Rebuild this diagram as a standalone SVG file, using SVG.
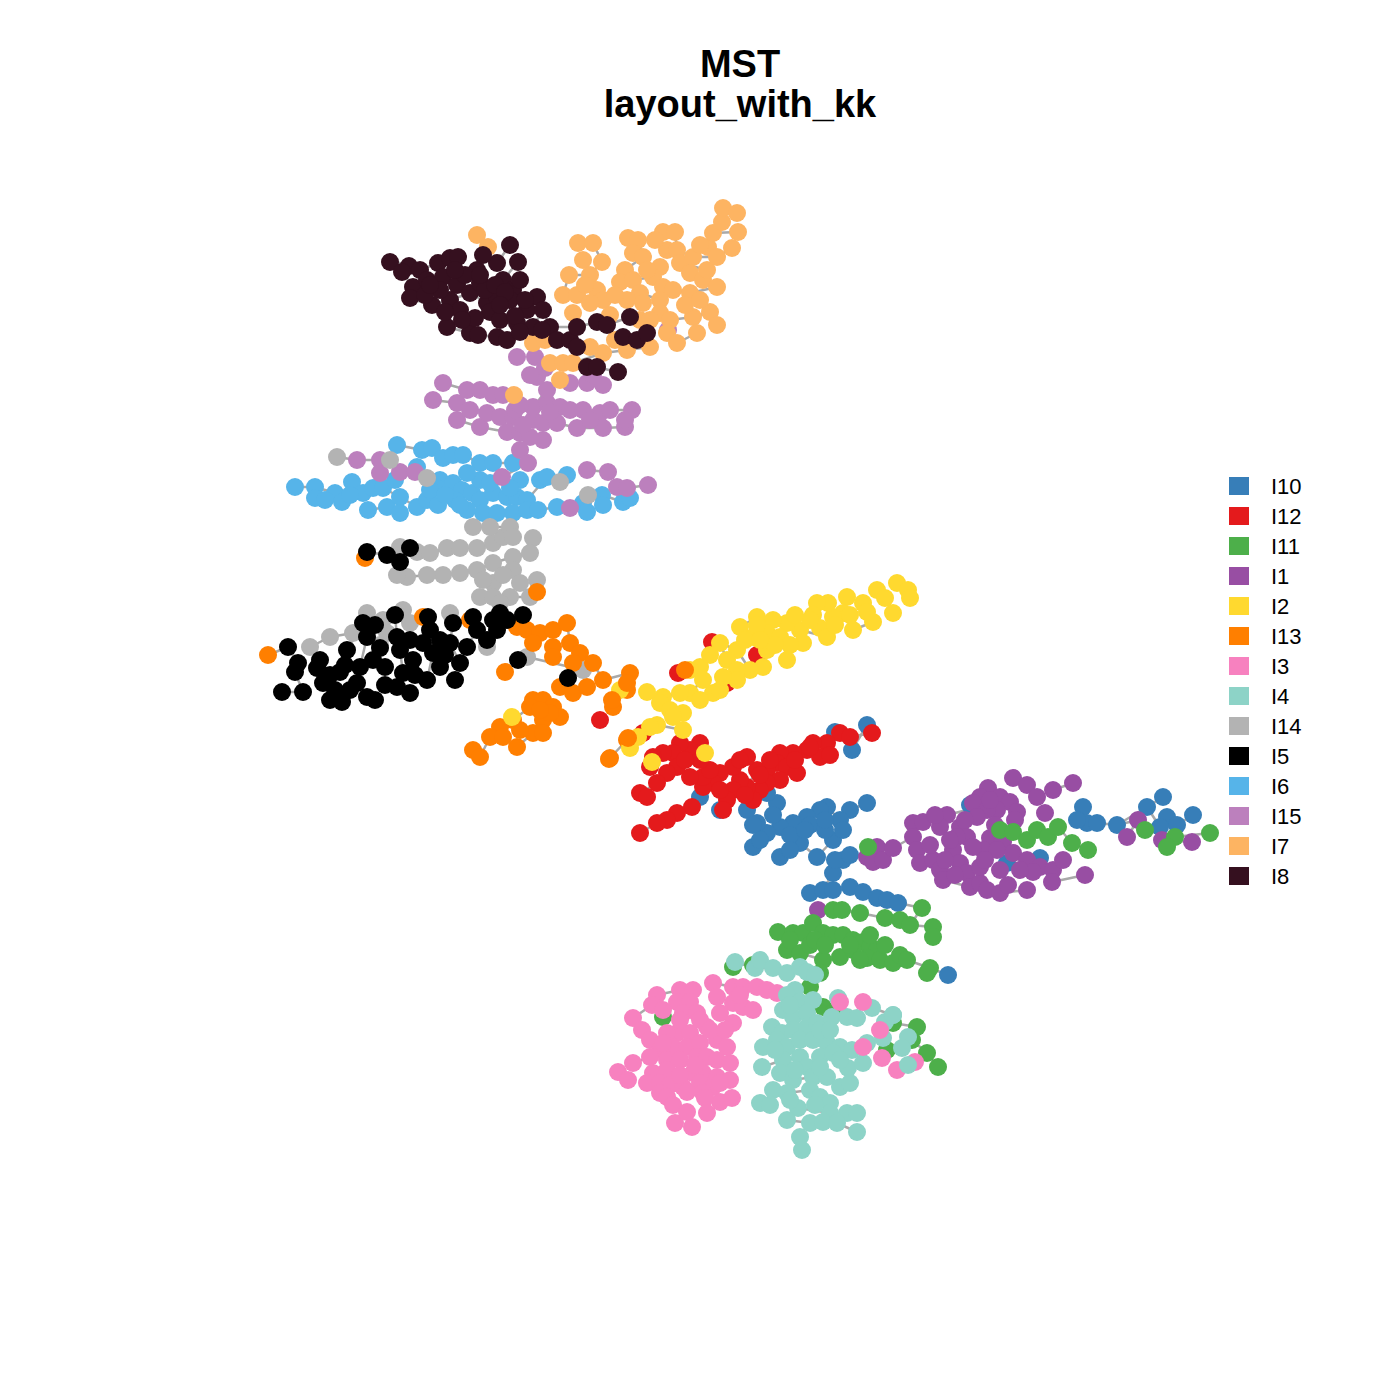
<svg xmlns="http://www.w3.org/2000/svg" width="1400" height="1400" viewBox="0 0 1400 1400">
<style>
circle{stroke:none}
.e{fill:none;stroke:#A9A9A9;stroke-width:2.5;stroke-linejoin:round}
.c10{fill:#377EB8}.c12{fill:#E41A1C}.c11{fill:#4DAF4A}.c1{fill:#984EA3}.c2{fill:#FFD92F}.c13{fill:#FF7F00}.c3{fill:#F781BF}.c4{fill:#8DD3C7}.c14{fill:#B3B3B3}.c5{fill:#000000}.c6{fill:#56B4E9}.c15{fill:#BC80BD}.c7{fill:#FDB462}.c8{fill:#35101F}
.t{font-family:"Liberation Sans",Arial,sans-serif;fill:#000}
</style>
<rect width="1400" height="1400" fill="#fff"/>
<g id="title">
<text class="t" x="740" y="77" font-size="38" font-weight="bold" text-anchor="middle">MST</text>
<text class="t" x="740" y="117" font-size="38" font-weight="bold" text-anchor="middle">layout_with_kk</text>
</g>
<g id="edges">
<path class="e" d="M663 232 L675 232 L677 250 L693 257 L717 257 L732 248 M708 247 L713 233 L722 222 L723 208 L737 213 M713 233 L738 232 M653 277 L663 287 L673 290 L690 293 L717 287 M660 300 L673 290 M660 313 L670 320 L693 317 L710 312 L717 325 M667 333 L677 343 L697 333 M640 293 L660 300 M620 282 L633 280 L653 277 M577 295 L603 300 L627 300 M563 363 L573 363 L603 353 L627 350 L650 347 M578 243 L593 243 L602 262 L590 275 L569 275 L563 295 M628 238 L638 240 L643 257 L625 270 L620 282 M680 263 L707 270 L703 280 L717 287"/>
<path class="e" d="M390 260 L409 266 L420 270 L438 263 L450 258 L458 257 M402 272 L413 287 L408 298 L432 305 L450 300 L470 293 L487 303 L510 300 L537 295 M447 327 L470 333 L478 335 L497 337 L507 340 L533 327 L543 310 L550 327 L577 327 L597 322 L607 325 L630 317 L647 333 L637 340 M587 367 L597 367 L617 372 M497 263 L510 245 M518 262 L503 280"/>
<path class="e" d="M443 383 L467 390 L480 390 L493 395 L503 395 L533 407 L547 403 L560 407 L570 410 L583 410 L600 413 L610 410 L632 410 M433 400 L457 403 L487 413 L500 417 L513 417 L533 420 L543 423 L557 423 L577 428 L603 428 L625 427 M457 420 L480 427 L507 432 L520 433 L543 440 M543 440 L530 437 L520 450 L528 463 L502 477 M337 457 L357 460 L380 460 L390 460 L400 472 L415 472 M587 470 L608 472 M617 487 L627 488 L648 485 M537 377 L547 390 L533 407"/>
<path class="e" d="M397 445 L422 450 L432 448 L443 458 L453 455 L463 455 L480 463 L493 463 L513 463 M295 487 L315 487 L335 493 L342 502 L363 493 L373 488 L383 488 L400 497 L417 507 L427 500 L438 505 L462 490 L472 493 L480 500 L493 493 L507 497 L517 497 L527 500 L547 477 L567 475 M315 498 L335 493 M368 510 L387 507 L400 513 M467 510 L483 513 L497 513 L513 513 L527 510 L538 510 L557 507 L583 503 L602 495 L623 502 L630 498 M417 467 L440 480 L453 483"/>
<path class="e" d="M397 575 L407 577 L427 575 L443 575 L460 573 L477 570 L493 563 L513 557 L530 553 L533 538 M400 547 L417 552 L430 553 L447 548 L460 548 L477 548 L493 543 L503 537 L513 537 M473 527 L490 527 L510 527 M480 597 L493 597 L510 597 L530 597 L537 580 M310 647 L330 637 L353 633 L367 613 L383 620 L403 610 M527 657 L583 670"/>
<path class="e" d="M288 647 L298 663 L295 672 L303 692 M282 692 L303 692 M317 668 L323 683 L335 690 L342 702 M367 552 L387 555 L400 562 L410 548 M347 650 L363 623 M367 637 L360 667 L357 683 L367 697 L375 700 M395 615 L397 637 L400 650 L403 673 L397 687 L410 693 M428 617 L430 630 L423 643 L433 653 L427 680 M453 623 L450 643 L460 663 L467 647 L477 630 L473 617 M493 620 L500 613 L507 620 L523 615 M268 655 L288 647"/>
<path class="e" d="M517 627 L527 630 L540 633 L553 630 L567 623 L570 643 L580 653 L593 663 L603 680 M473 750 L480 757 L490 737 L500 727 L513 720 L530 707 L543 700 L553 707 L560 717 M503 737 L517 747 L533 733 L543 733 M610 758 L627 740 M613 707 L627 690 L630 673 M603 680 L630 673"/>
<path class="e" d="M897 583 L908 590 L910 598 M877 590 L885 598 L893 613 M863 603 L867 612 L873 622 L853 630 L843 613 L833 617 L828 603 L817 603 L813 615 L820 628 L827 637 L800 630 L787 623 L773 620 L757 617 L740 627 L753 637 L767 650 L763 667 L750 670 L737 650 L720 643 L727 660 L737 670 L723 677 L713 693 L703 680 L690 693 L680 693 L663 697 L660 703 L647 692 M670 710 L683 713 L673 717 L683 730 L657 725 L650 727 L638 737 L630 748"/>
<path class="e" d="M872 733 L850 737 L840 733 L827 743 L813 743 L807 750 L793 753 L780 753 L777 763 L767 770 L757 770 L747 787 L740 780 L733 790 L727 800 L723 810 M787 767 L780 780 L767 783 L760 790 L753 800 M747 757 L733 767 L720 773 L713 783 L703 787 L692 807 L677 813 L667 820 L657 823 L640 833 M700 743 L690 750 L680 743 L673 753 L663 753 L653 757 L650 767 M677 767 L667 773 L657 783 L640 793 L647 797"/>
<path class="e" d="M867 725 L852 750 L835 732 M867 803 L850 810 L840 820 L827 807 L820 810 L807 817 L793 823 L780 827 L767 833 L753 847 M780 857 L800 843 L817 857 L833 840 L843 830 M843 860 L833 873 L823 890 L810 893 M833 890 L850 887 L863 892 L877 898 L887 900 L898 903 L922 908 M1083 807 L1087 823 L1097 823 L1117 825 L1147 807 L1163 797 M1147 807 L1160 827 L1177 825 L1193 815 M930 968 L948 975"/>
<path class="e" d="M1013 778 L1027 785 L1037 797 M1053 790 L1073 783 M913 823 L923 822 L947 815 L967 810 L973 803 L980 797 L988 788 M1040 867 L1053 870 L1063 860 M1052 882 L1085 875 M877 847 L893 848 L913 837 L917 850 L920 863 L933 860 L940 870 L943 880 L970 887 L987 890 L1000 893 L1027 890 M1138 820 L1127 837 M1162 840 L1192 842 M1117 825 L1138 820"/>
<path class="e" d="M1000 830 L1013 832 L1027 840 L1037 830 L1048 837 L1058 827 L1072 843 L1088 850 M1145 830 L1175 837 L1210 833 M833 910 L842 910 L860 913 L885 918 L900 920 L910 925 L922 908 M910 925 L933 927 L933 937 M778 932 L793 933 L803 933 L823 933 L833 935 L843 935 L853 940 L863 942 L870 947 L877 950 M787 950 L800 953 L823 960 L840 957 L853 950 L867 958 L880 960 L893 963 L900 955 L907 960 L930 968 M893 1023 L917 1027 L912 1040 L927 1053 L938 1067"/>
<path class="e" d="M735 962 L755 968 L773 968 L787 973 L800 967 L807 972 L815 975 M763 1047 L777 1040 L787 1047 L800 1040 M762 1067 L783 1060 L800 1057 L807 1067 M780 1073 L793 1080 L813 1077 L827 1077 L840 1087 M773 1090 L787 1093 L810 1090 L820 1097 L830 1103 M760 1103 L770 1105 M798 1108 L830 1113 L847 1113 L857 1113 M787 1120 L810 1123 L823 1122 L837 1123 L857 1132 M800 1137 L802 1150 M872 1008 L893 1015 L885 1022"/>
<path class="e" d="M657 995 L680 990 M633 1018 L652 1005 M642 1030 L650 1040 M713 983 L733 987 L743 987 L757 987 L767 990 L777 993 M717 997 L733 1003 L743 1007 L753 1010 M618 1072 L628 1080 M633 1063 L650 1057 M660 1083 L683 1087 L700 1083 L713 1087 M675 1123 L687 1112 L692 1127 M707 1113 L703 1093"/>
</g>
<g id="nodes-I6" class="c6">
<circle cx="397" cy="445" r="9"/><circle cx="422" cy="450" r="9"/><circle cx="432" cy="448" r="9"/><circle cx="443" cy="458" r="9"/><circle cx="453" cy="455" r="9"/><circle cx="463" cy="455" r="9"/><circle cx="480" cy="463" r="9"/><circle cx="493" cy="463" r="9"/><circle cx="513" cy="463" r="9"/><circle cx="295" cy="487" r="9"/><circle cx="315" cy="487" r="9"/><circle cx="315" cy="498" r="9"/><circle cx="335" cy="493" r="9"/><circle cx="342" cy="502" r="9"/><circle cx="352" cy="482" r="9"/><circle cx="363" cy="493" r="9"/><circle cx="373" cy="488" r="9"/><circle cx="383" cy="488" r="9"/><circle cx="368" cy="510" r="9"/><circle cx="387" cy="507" r="9"/><circle cx="400" cy="497" r="9"/><circle cx="400" cy="513" r="9"/><circle cx="417" cy="507" r="9"/><circle cx="427" cy="500" r="9"/><circle cx="438" cy="505" r="9"/><circle cx="417" cy="467" r="9"/><circle cx="440" cy="480" r="9"/><circle cx="437" cy="488" r="9"/><circle cx="453" cy="483" r="9"/><circle cx="462" cy="490" r="9"/><circle cx="472" cy="493" r="9"/><circle cx="480" cy="500" r="9"/><circle cx="493" cy="493" r="9"/><circle cx="507" cy="497" r="9"/><circle cx="517" cy="497" r="9"/><circle cx="527" cy="500" r="9"/><circle cx="467" cy="510" r="9"/><circle cx="483" cy="513" r="9"/><circle cx="497" cy="513" r="9"/><circle cx="513" cy="513" r="9"/><circle cx="527" cy="510" r="9"/><circle cx="538" cy="510" r="9"/><circle cx="520" cy="480" r="9"/><circle cx="540" cy="480" r="9"/><circle cx="547" cy="477" r="9"/><circle cx="567" cy="475" r="9"/><circle cx="557" cy="507" r="9"/><circle cx="583" cy="503" r="9"/><circle cx="587" cy="512" r="9"/><circle cx="602" cy="495" r="9"/><circle cx="603" cy="505" r="9"/><circle cx="623" cy="502" r="9"/><circle cx="630" cy="498" r="9"/><circle cx="480" cy="480" r="9"/><circle cx="467" cy="473" r="9"/><circle cx="350" cy="495" r="9"/><circle cx="325" cy="500" r="9"/><circle cx="490" cy="483" r="9"/><circle cx="510" cy="488" r="9"/><circle cx="455" cy="500" r="9"/><circle cx="430" cy="490" r="9"/><circle cx="445" cy="495" r="9"/><circle cx="395" cy="480" r="9"/><circle cx="460" cy="505" r="9"/>
</g>
<g id="nodes-I15" class="c15">
<circle cx="443" cy="383" r="9"/><circle cx="433" cy="400" r="9"/><circle cx="457" cy="403" r="9"/><circle cx="467" cy="390" r="9"/><circle cx="480" cy="390" r="9"/><circle cx="493" cy="395" r="9"/><circle cx="503" cy="395" r="9"/><circle cx="457" cy="420" r="9"/><circle cx="480" cy="427" r="9"/><circle cx="487" cy="413" r="9"/><circle cx="500" cy="417" r="9"/><circle cx="513" cy="417" r="9"/><circle cx="507" cy="432" r="9"/><circle cx="520" cy="433" r="9"/><circle cx="533" cy="420" r="9"/><circle cx="543" cy="423" r="9"/><circle cx="533" cy="407" r="9"/><circle cx="547" cy="403" r="9"/><circle cx="560" cy="407" r="9"/><circle cx="547" cy="390" r="9"/><circle cx="537" cy="377" r="9"/><circle cx="570" cy="410" r="9"/><circle cx="583" cy="410" r="9"/><circle cx="600" cy="413" r="9"/><circle cx="610" cy="410" r="9"/><circle cx="632" cy="410" r="9"/><circle cx="557" cy="423" r="9"/><circle cx="577" cy="428" r="9"/><circle cx="603" cy="428" r="9"/><circle cx="625" cy="427" r="9"/><circle cx="625" cy="420" r="9"/><circle cx="543" cy="440" r="9"/><circle cx="530" cy="437" r="9"/><circle cx="520" cy="450" r="9"/><circle cx="528" cy="463" r="9"/><circle cx="570" cy="383" r="9"/><circle cx="587" cy="383" r="9"/><circle cx="517" cy="357" r="9"/><circle cx="535" cy="357" r="9"/><circle cx="545" cy="368" r="9"/><circle cx="530" cy="375" r="9"/><circle cx="593" cy="375" r="9"/><circle cx="603" cy="385" r="9"/><circle cx="668" cy="330" r="9"/><circle cx="357" cy="460" r="9"/><circle cx="380" cy="460" r="9"/><circle cx="380" cy="473" r="9"/><circle cx="400" cy="472" r="9"/><circle cx="415" cy="472" r="9"/><circle cx="502" cy="477" r="9"/><circle cx="587" cy="470" r="9"/><circle cx="608" cy="472" r="9"/><circle cx="617" cy="487" r="9"/><circle cx="627" cy="488" r="9"/><circle cx="648" cy="485" r="9"/><circle cx="570" cy="508" r="9"/><circle cx="515" cy="410" r="9"/><circle cx="523" cy="425" r="9"/><circle cx="470" cy="410" r="9"/><circle cx="520" cy="405" r="9"/><circle cx="550" cy="412" r="9"/><circle cx="590" cy="420" r="9"/>
</g>
<g id="nodes-I7" class="c7">
<circle cx="477" cy="235" r="9"/><circle cx="488" cy="247" r="9"/><circle cx="578" cy="243" r="9"/><circle cx="593" cy="243" r="9"/><circle cx="583" cy="260" r="9"/><circle cx="602" cy="262" r="9"/><circle cx="590" cy="275" r="9"/><circle cx="569" cy="275" r="9"/><circle cx="563" cy="295" r="9"/><circle cx="577" cy="295" r="9"/><circle cx="597" cy="290" r="9"/><circle cx="603" cy="300" r="9"/><circle cx="590" cy="303" r="9"/><circle cx="573" cy="313" r="9"/><circle cx="628" cy="238" r="9"/><circle cx="638" cy="240" r="9"/><circle cx="633" cy="253" r="9"/><circle cx="643" cy="257" r="9"/><circle cx="625" cy="270" r="9"/><circle cx="620" cy="282" r="9"/><circle cx="633" cy="280" r="9"/><circle cx="640" cy="293" r="9"/><circle cx="627" cy="300" r="9"/><circle cx="643" cy="303" r="9"/><circle cx="663" cy="232" r="9"/><circle cx="675" cy="232" r="9"/><circle cx="667" cy="250" r="9"/><circle cx="677" cy="250" r="9"/><circle cx="680" cy="263" r="9"/><circle cx="660" cy="267" r="9"/><circle cx="653" cy="277" r="9"/><circle cx="663" cy="287" r="9"/><circle cx="673" cy="290" r="9"/><circle cx="660" cy="300" r="9"/><circle cx="693" cy="257" r="9"/><circle cx="690" cy="273" r="9"/><circle cx="690" cy="293" r="9"/><circle cx="703" cy="280" r="9"/><circle cx="717" cy="287" r="9"/><circle cx="707" cy="270" r="9"/><circle cx="708" cy="247" r="9"/><circle cx="717" cy="257" r="9"/><circle cx="713" cy="233" r="9"/><circle cx="722" cy="222" r="9"/><circle cx="723" cy="208" r="9"/><circle cx="737" cy="213" r="9"/><circle cx="738" cy="232" r="9"/><circle cx="732" cy="248" r="9"/><circle cx="660" cy="313" r="9"/><circle cx="670" cy="320" r="9"/><circle cx="667" cy="333" r="9"/><circle cx="677" cy="343" r="9"/><circle cx="693" cy="317" r="9"/><circle cx="697" cy="333" r="9"/><circle cx="710" cy="312" r="9"/><circle cx="717" cy="325" r="9"/><circle cx="650" cy="347" r="9"/><circle cx="627" cy="350" r="9"/><circle cx="603" cy="353" r="9"/><circle cx="590" cy="347" r="9"/><circle cx="550" cy="363" r="9"/><circle cx="563" cy="363" r="9"/><circle cx="573" cy="363" r="9"/><circle cx="533" cy="343" r="9"/><circle cx="560" cy="380" r="9"/><circle cx="514" cy="395" r="9"/><circle cx="615" cy="340" r="9"/><circle cx="640" cy="320" r="9"/><circle cx="610" cy="315" r="9"/><circle cx="545" cy="340" r="9"/><circle cx="655" cy="240" r="9"/><circle cx="700" cy="245" r="9"/><circle cx="647" cy="270" r="9"/><circle cx="685" cy="305" r="9"/><circle cx="700" cy="300" r="9"/><circle cx="615" cy="295" r="9"/><circle cx="585" cy="285" r="9"/><circle cx="650" cy="320" r="9"/>
</g>
<g id="nodes-I8" class="c8">
<circle cx="390" cy="262" r="9"/><circle cx="409" cy="266" r="9"/><circle cx="402" cy="272" r="9"/><circle cx="420" cy="270" r="9"/><circle cx="413" cy="287" r="9"/><circle cx="410" cy="298" r="9"/><circle cx="432" cy="305" r="9"/><circle cx="427" cy="280" r="9"/><circle cx="438" cy="263" r="9"/><circle cx="450" cy="258" r="9"/><circle cx="458" cy="257" r="9"/><circle cx="443" cy="277" r="9"/><circle cx="457" cy="285" r="9"/><circle cx="450" cy="300" r="9"/><circle cx="460" cy="310" r="9"/><circle cx="470" cy="293" r="9"/><circle cx="477" cy="270" r="9"/><circle cx="480" cy="283" r="9"/><circle cx="487" cy="303" r="9"/><circle cx="497" cy="263" r="9"/><circle cx="510" cy="245" r="9"/><circle cx="518" cy="262" r="9"/><circle cx="503" cy="280" r="9"/><circle cx="513" cy="290" r="9"/><circle cx="520" cy="280" r="9"/><circle cx="497" cy="297" r="9"/><circle cx="510" cy="300" r="9"/><circle cx="537" cy="297" r="9"/><circle cx="447" cy="327" r="9"/><circle cx="470" cy="333" r="9"/><circle cx="478" cy="335" r="9"/><circle cx="497" cy="337" r="9"/><circle cx="507" cy="340" r="9"/><circle cx="517" cy="323" r="9"/><circle cx="527" cy="310" r="9"/><circle cx="533" cy="327" r="9"/><circle cx="543" cy="310" r="9"/><circle cx="550" cy="327" r="9"/><circle cx="557" cy="340" r="9"/><circle cx="570" cy="340" r="9"/><circle cx="577" cy="327" r="9"/><circle cx="597" cy="322" r="9"/><circle cx="607" cy="325" r="9"/><circle cx="630" cy="317" r="9"/><circle cx="623" cy="337" r="9"/><circle cx="637" cy="340" r="9"/><circle cx="647" cy="333" r="9"/><circle cx="587" cy="367" r="9"/><circle cx="597" cy="367" r="9"/><circle cx="618" cy="372" r="9"/><circle cx="542" cy="330" r="9"/><circle cx="577" cy="347" r="9"/><circle cx="485" cy="290" r="9"/><circle cx="495" cy="285" r="9"/><circle cx="505" cy="292" r="9"/><circle cx="490" cy="312" r="9"/><circle cx="500" cy="320" r="9"/><circle cx="515" cy="316" r="9"/><circle cx="525" cy="300" r="9"/><circle cx="465" cy="275" r="9"/><circle cx="475" cy="318" r="9"/><circle cx="483" cy="255" r="9"/><circle cx="440" cy="290" r="9"/><circle cx="425" cy="295" r="9"/><circle cx="430" cy="285" r="9"/><circle cx="445" cy="312" r="9"/><circle cx="462" cy="320" r="9"/><circle cx="520" cy="332" r="9"/><circle cx="480" cy="275" r="9"/><circle cx="455" cy="270" r="9"/><circle cx="500" cy="305" r="9"/>
</g>
<g id="nodes-I14" class="c14">
<circle cx="400" cy="547" r="9"/><circle cx="417" cy="552" r="9"/><circle cx="430" cy="553" r="9"/><circle cx="447" cy="548" r="9"/><circle cx="460" cy="548" r="9"/><circle cx="477" cy="548" r="9"/><circle cx="493" cy="543" r="9"/><circle cx="503" cy="537" r="9"/><circle cx="473" cy="527" r="9"/><circle cx="490" cy="527" r="9"/><circle cx="510" cy="527" r="9"/><circle cx="513" cy="537" r="9"/><circle cx="533" cy="538" r="9"/><circle cx="530" cy="553" r="9"/><circle cx="513" cy="557" r="9"/><circle cx="493" cy="563" r="9"/><circle cx="477" cy="570" r="9"/><circle cx="460" cy="573" r="9"/><circle cx="443" cy="575" r="9"/><circle cx="427" cy="575" r="9"/><circle cx="407" cy="577" r="9"/><circle cx="397" cy="575" r="9"/><circle cx="493" cy="583" r="9"/><circle cx="513" cy="570" r="9"/><circle cx="520" cy="583" r="9"/><circle cx="537" cy="580" r="9"/><circle cx="480" cy="597" r="9"/><circle cx="493" cy="597" r="9"/><circle cx="510" cy="597" r="9"/><circle cx="530" cy="597" r="9"/><circle cx="500" cy="603" r="9"/><circle cx="483" cy="580" r="9"/><circle cx="503" cy="575" r="9"/><circle cx="310" cy="647" r="9"/><circle cx="330" cy="637" r="9"/><circle cx="353" cy="633" r="9"/><circle cx="367" cy="613" r="9"/><circle cx="383" cy="620" r="9"/><circle cx="403" cy="610" r="9"/><circle cx="410" cy="623" r="9"/><circle cx="387" cy="633" r="9"/><circle cx="380" cy="645" r="9"/><circle cx="450" cy="613" r="9"/><circle cx="487" cy="647" r="9"/><circle cx="527" cy="657" r="9"/><circle cx="583" cy="670" r="9"/><circle cx="337" cy="457" r="9"/><circle cx="390" cy="460" r="9"/><circle cx="427" cy="478" r="9"/><circle cx="560" cy="482" r="9"/><circle cx="588" cy="495" r="9"/>
</g>
<g id="nodes-I13" class="c13">
<circle cx="268" cy="655" r="9"/><circle cx="365" cy="558" r="9"/><circle cx="423" cy="617" r="9"/><circle cx="537" cy="592" r="9"/><circle cx="517" cy="627" r="9"/><circle cx="527" cy="630" r="9"/><circle cx="540" cy="633" r="9"/><circle cx="553" cy="630" r="9"/><circle cx="567" cy="623" r="9"/><circle cx="570" cy="643" r="9"/><circle cx="553" cy="647" r="9"/><circle cx="580" cy="653" r="9"/><circle cx="533" cy="643" r="9"/><circle cx="553" cy="657" r="9"/><circle cx="573" cy="663" r="9"/><circle cx="593" cy="663" r="9"/><circle cx="603" cy="680" r="9"/><circle cx="560" cy="687" r="9"/><circle cx="573" cy="693" r="9"/><circle cx="587" cy="687" r="9"/><circle cx="505" cy="672" r="9"/><circle cx="533" cy="700" r="9"/><circle cx="543" cy="700" r="9"/><circle cx="553" cy="707" r="9"/><circle cx="560" cy="717" r="9"/><circle cx="543" cy="720" r="9"/><circle cx="530" cy="707" r="9"/><circle cx="513" cy="720" r="9"/><circle cx="500" cy="727" r="9"/><circle cx="490" cy="737" r="9"/><circle cx="473" cy="750" r="9"/><circle cx="480" cy="757" r="9"/><circle cx="503" cy="737" r="9"/><circle cx="517" cy="747" r="9"/><circle cx="533" cy="733" r="9"/><circle cx="543" cy="733" r="9"/><circle cx="520" cy="730" r="9"/><circle cx="550" cy="713" r="9"/><circle cx="540" cy="710" r="9"/><circle cx="630" cy="673" r="9"/><circle cx="627" cy="690" r="9"/><circle cx="613" cy="707" r="9"/><circle cx="627" cy="740" r="9"/><circle cx="610" cy="758" r="9"/><circle cx="470" cy="620" r="9"/>
</g>
<g id="nodes-I5" class="c5">
<circle cx="367" cy="552" r="9"/><circle cx="387" cy="555" r="9"/><circle cx="400" cy="562" r="9"/><circle cx="410" cy="548" r="9"/><circle cx="288" cy="647" r="9"/><circle cx="298" cy="663" r="9"/><circle cx="295" cy="672" r="9"/><circle cx="282" cy="692" r="9"/><circle cx="303" cy="692" r="9"/><circle cx="317" cy="668" r="9"/><circle cx="323" cy="683" r="9"/><circle cx="335" cy="690" r="9"/><circle cx="342" cy="702" r="9"/><circle cx="340" cy="672" r="9"/><circle cx="347" cy="650" r="9"/><circle cx="363" cy="623" r="9"/><circle cx="367" cy="637" r="9"/><circle cx="360" cy="667" r="9"/><circle cx="357" cy="683" r="9"/><circle cx="367" cy="697" r="9"/><circle cx="375" cy="700" r="9"/><circle cx="373" cy="660" r="9"/><circle cx="385" cy="667" r="9"/><circle cx="395" cy="615" r="9"/><circle cx="397" cy="637" r="9"/><circle cx="400" cy="650" r="9"/><circle cx="403" cy="673" r="9"/><circle cx="397" cy="687" r="9"/><circle cx="410" cy="693" r="9"/><circle cx="413" cy="660" r="9"/><circle cx="423" cy="643" r="9"/><circle cx="428" cy="617" r="9"/><circle cx="430" cy="630" r="9"/><circle cx="433" cy="653" r="9"/><circle cx="427" cy="680" r="9"/><circle cx="440" cy="667" r="9"/><circle cx="453" cy="623" r="9"/><circle cx="450" cy="643" r="9"/><circle cx="460" cy="663" r="9"/><circle cx="467" cy="647" r="9"/><circle cx="473" cy="617" r="9"/><circle cx="477" cy="630" r="9"/><circle cx="493" cy="620" r="9"/><circle cx="500" cy="613" r="9"/><circle cx="507" cy="620" r="9"/><circle cx="523" cy="615" r="9"/><circle cx="497" cy="630" r="9"/><circle cx="487" cy="640" r="9"/><circle cx="518" cy="660" r="9"/><circle cx="568" cy="678" r="9"/><circle cx="415" cy="675" r="9"/><circle cx="445" cy="655" r="9"/><circle cx="385" cy="685" r="9"/><circle cx="350" cy="690" r="9"/><circle cx="330" cy="675" r="9"/><circle cx="380" cy="648" r="9"/><circle cx="375" cy="625" r="9"/><circle cx="410" cy="640" r="9"/><circle cx="440" cy="640" r="9"/><circle cx="455" cy="680" r="9"/><circle cx="345" cy="665" r="9"/><circle cx="330" cy="700" r="9"/><circle cx="320" cy="660" r="9"/>
</g>
<g id="nodes-I10" class="c10">
<circle cx="867" cy="725" r="9"/><circle cx="835" cy="732" r="9"/><circle cx="852" cy="750" r="9"/><circle cx="867" cy="803" r="9"/><circle cx="850" cy="810" r="9"/><circle cx="840" cy="820" r="9"/><circle cx="827" cy="807" r="9"/><circle cx="820" cy="810" r="9"/><circle cx="807" cy="817" r="9"/><circle cx="793" cy="823" r="9"/><circle cx="780" cy="827" r="9"/><circle cx="767" cy="833" r="9"/><circle cx="753" cy="847" r="9"/><circle cx="780" cy="857" r="9"/><circle cx="800" cy="843" r="9"/><circle cx="817" cy="857" r="9"/><circle cx="833" cy="840" r="9"/><circle cx="843" cy="830" r="9"/><circle cx="757" cy="823" r="9"/><circle cx="747" cy="810" r="9"/><circle cx="777" cy="803" r="9"/><circle cx="767" cy="793" r="9"/><circle cx="753" cy="825" r="9"/><circle cx="700" cy="797" r="9"/><circle cx="720" cy="810" r="9"/><circle cx="843" cy="860" r="9"/><circle cx="833" cy="873" r="9"/><circle cx="810" cy="893" r="9"/><circle cx="823" cy="890" r="9"/><circle cx="833" cy="890" r="9"/><circle cx="850" cy="887" r="9"/><circle cx="863" cy="892" r="9"/><circle cx="877" cy="898" r="9"/><circle cx="887" cy="900" r="9"/><circle cx="898" cy="903" r="9"/><circle cx="970" cy="805" r="9"/><circle cx="1007" cy="863" r="9"/><circle cx="1040" cy="858" r="9"/><circle cx="1083" cy="807" r="9"/><circle cx="1087" cy="823" r="9"/><circle cx="1077" cy="820" r="9"/><circle cx="1097" cy="823" r="9"/><circle cx="1117" cy="825" r="9"/><circle cx="1147" cy="807" r="9"/><circle cx="1163" cy="797" r="9"/><circle cx="1167" cy="817" r="9"/><circle cx="1177" cy="825" r="9"/><circle cx="1160" cy="827" r="9"/><circle cx="1193" cy="815" r="9"/><circle cx="948" cy="975" r="9"/><circle cx="810" cy="825" r="9"/><circle cx="790" cy="835" r="9"/><circle cx="825" cy="830" r="9"/><circle cx="773" cy="815" r="9"/><circle cx="760" cy="840" r="9"/><circle cx="790" cy="850" r="9"/><circle cx="805" cy="830" r="9"/><circle cx="825" cy="820" r="9"/><circle cx="835" cy="860" r="9"/><circle cx="850" cy="855" r="9"/>
</g>
<g id="nodes-I12" class="c12">
<circle cx="712" cy="642" r="9"/><circle cx="678" cy="673" r="9"/><circle cx="727" cy="683" r="9"/><circle cx="757" cy="655" r="9"/><circle cx="600" cy="720" r="9"/><circle cx="643" cy="733" r="9"/><circle cx="872" cy="733" r="9"/><circle cx="840" cy="733" r="9"/><circle cx="850" cy="737" r="9"/><circle cx="827" cy="743" r="9"/><circle cx="813" cy="743" r="9"/><circle cx="807" cy="750" r="9"/><circle cx="793" cy="753" r="9"/><circle cx="780" cy="753" r="9"/><circle cx="820" cy="757" r="9"/><circle cx="830" cy="755" r="9"/><circle cx="777" cy="763" r="9"/><circle cx="767" cy="770" r="9"/><circle cx="757" cy="770" r="9"/><circle cx="787" cy="767" r="9"/><circle cx="780" cy="780" r="9"/><circle cx="797" cy="773" r="9"/><circle cx="767" cy="783" r="9"/><circle cx="760" cy="790" r="9"/><circle cx="753" cy="800" r="9"/><circle cx="747" cy="787" r="9"/><circle cx="740" cy="780" r="9"/><circle cx="733" cy="790" r="9"/><circle cx="727" cy="800" r="9"/><circle cx="723" cy="810" r="9"/><circle cx="747" cy="757" r="9"/><circle cx="733" cy="767" r="9"/><circle cx="720" cy="773" r="9"/><circle cx="713" cy="783" r="9"/><circle cx="703" cy="787" r="9"/><circle cx="703" cy="777" r="9"/><circle cx="710" cy="770" r="9"/><circle cx="690" cy="777" r="9"/><circle cx="692" cy="807" r="9"/><circle cx="677" cy="813" r="9"/><circle cx="667" cy="820" r="9"/><circle cx="657" cy="823" r="9"/><circle cx="640" cy="833" r="9"/><circle cx="700" cy="743" r="9"/><circle cx="690" cy="750" r="9"/><circle cx="680" cy="743" r="9"/><circle cx="673" cy="753" r="9"/><circle cx="663" cy="753" r="9"/><circle cx="653" cy="757" r="9"/><circle cx="650" cy="767" r="9"/><circle cx="677" cy="767" r="9"/><circle cx="667" cy="773" r="9"/><circle cx="657" cy="783" r="9"/><circle cx="640" cy="793" r="9"/><circle cx="647" cy="797" r="9"/><circle cx="810" cy="747" r="9"/><circle cx="770" cy="760" r="9"/><circle cx="740" cy="760" r="9"/><circle cx="760" cy="775" r="9"/><circle cx="745" cy="795" r="9"/><circle cx="700" cy="760" r="9"/><circle cx="685" cy="760" r="9"/><circle cx="720" cy="790" r="9"/><circle cx="795" cy="760" r="9"/>
</g>
<g id="nodes-I2" class="c2">
<circle cx="897" cy="583" r="9"/><circle cx="908" cy="590" r="9"/><circle cx="910" cy="598" r="9"/><circle cx="877" cy="590" r="9"/><circle cx="885" cy="598" r="9"/><circle cx="893" cy="613" r="9"/><circle cx="873" cy="622" r="9"/><circle cx="863" cy="603" r="9"/><circle cx="867" cy="612" r="9"/><circle cx="847" cy="597" r="9"/><circle cx="853" cy="630" r="9"/><circle cx="843" cy="613" r="9"/><circle cx="833" cy="617" r="9"/><circle cx="828" cy="603" r="9"/><circle cx="817" cy="603" r="9"/><circle cx="813" cy="615" r="9"/><circle cx="820" cy="628" r="9"/><circle cx="827" cy="637" r="9"/><circle cx="800" cy="630" r="9"/><circle cx="803" cy="643" r="9"/><circle cx="787" cy="623" r="9"/><circle cx="773" cy="620" r="9"/><circle cx="767" cy="633" r="9"/><circle cx="757" cy="617" r="9"/><circle cx="740" cy="627" r="9"/><circle cx="753" cy="637" r="9"/><circle cx="780" cy="637" r="9"/><circle cx="787" cy="660" r="9"/><circle cx="767" cy="650" r="9"/><circle cx="763" cy="667" r="9"/><circle cx="750" cy="670" r="9"/><circle cx="737" cy="650" r="9"/><circle cx="720" cy="643" r="9"/><circle cx="727" cy="660" r="9"/><circle cx="737" cy="670" r="9"/><circle cx="737" cy="680" r="9"/><circle cx="723" cy="677" r="9"/><circle cx="713" cy="693" r="9"/><circle cx="703" cy="680" r="9"/><circle cx="700" cy="667" r="9"/><circle cx="690" cy="670" r="9"/><circle cx="690" cy="693" r="9"/><circle cx="680" cy="693" r="9"/><circle cx="663" cy="697" r="9"/><circle cx="660" cy="703" r="9"/><circle cx="647" cy="692" r="9"/><circle cx="670" cy="710" r="9"/><circle cx="683" cy="713" r="9"/><circle cx="673" cy="717" r="9"/><circle cx="683" cy="730" r="9"/><circle cx="657" cy="725" r="9"/><circle cx="650" cy="727" r="9"/><circle cx="638" cy="737" r="9"/><circle cx="630" cy="748" r="9"/><circle cx="705" cy="753" r="9"/><circle cx="652" cy="762" r="9"/><circle cx="620" cy="690" r="9"/><circle cx="512" cy="717" r="9"/><circle cx="790" cy="645" r="9"/><circle cx="745" cy="640" r="9"/><circle cx="710" cy="655" r="9"/><circle cx="757" cy="625" r="9"/><circle cx="810" cy="620" r="9"/><circle cx="795" cy="615" r="9"/><circle cx="775" cy="645" r="9"/><circle cx="760" cy="640" r="9"/><circle cx="700" cy="700" r="9"/><circle cx="720" cy="690" r="9"/><circle cx="850" cy="615" r="9"/><circle cx="835" cy="625" r="9"/>
</g>
<g id="nodes-I13b" class="c13">
<circle cx="627" cy="683" r="9"/><circle cx="628" cy="738" r="9"/><circle cx="609" cy="759" r="9"/><circle cx="612" cy="700" r="9"/><circle cx="685" cy="670" r="9"/>
</g>
<g id="nodes-I1" class="c1">
<circle cx="1013" cy="778" r="9"/><circle cx="1027" cy="785" r="9"/><circle cx="1037" cy="797" r="9"/><circle cx="1053" cy="790" r="9"/><circle cx="1073" cy="783" r="9"/><circle cx="988" cy="788" r="9"/><circle cx="980" cy="797" r="9"/><circle cx="973" cy="803" r="9"/><circle cx="1000" cy="797" r="9"/><circle cx="1010" cy="802" r="9"/><circle cx="1017" cy="812" r="9"/><circle cx="1015" cy="820" r="9"/><circle cx="997" cy="810" r="9"/><circle cx="987" cy="810" r="9"/><circle cx="977" cy="817" r="9"/><circle cx="1045" cy="813" r="9"/><circle cx="913" cy="823" r="9"/><circle cx="923" cy="822" r="9"/><circle cx="947" cy="815" r="9"/><circle cx="940" cy="827" r="9"/><circle cx="960" cy="827" r="9"/><circle cx="967" cy="837" r="9"/><circle cx="957" cy="837" r="9"/><circle cx="990" cy="838" r="9"/><circle cx="1003" cy="842" r="9"/><circle cx="983" cy="850" r="9"/><circle cx="973" cy="847" r="9"/><circle cx="997" cy="850" r="9"/><circle cx="1013" cy="853" r="9"/><circle cx="1027" cy="860" r="9"/><circle cx="1040" cy="867" r="9"/><circle cx="1033" cy="872" r="9"/><circle cx="1053" cy="870" r="9"/><circle cx="1063" cy="860" r="9"/><circle cx="1052" cy="882" r="9"/><circle cx="1085" cy="875" r="9"/><circle cx="913" cy="837" r="9"/><circle cx="917" cy="850" r="9"/><circle cx="920" cy="863" r="9"/><circle cx="933" cy="860" r="9"/><circle cx="940" cy="870" r="9"/><circle cx="943" cy="880" r="9"/><circle cx="953" cy="850" r="9"/><circle cx="960" cy="863" r="9"/><circle cx="967" cy="873" r="9"/><circle cx="970" cy="887" r="9"/><circle cx="980" cy="883" r="9"/><circle cx="980" cy="867" r="9"/><circle cx="987" cy="890" r="9"/><circle cx="1000" cy="893" r="9"/><circle cx="1008" cy="885" r="9"/><circle cx="1027" cy="890" r="9"/><circle cx="877" cy="847" r="9"/><circle cx="867" cy="857" r="9"/><circle cx="873" cy="862" r="9"/><circle cx="883" cy="860" r="9"/><circle cx="893" cy="848" r="9"/><circle cx="1138" cy="820" r="9"/><circle cx="1127" cy="837" r="9"/><circle cx="1162" cy="840" r="9"/><circle cx="1192" cy="842" r="9"/><circle cx="818" cy="910" r="9"/><circle cx="930" cy="845" r="9"/><circle cx="945" cy="860" r="9"/><circle cx="965" cy="820" r="9"/><circle cx="935" cy="815" r="9"/><circle cx="950" cy="840" r="9"/><circle cx="995" cy="825" r="9"/><circle cx="1020" cy="870" r="9"/><circle cx="1000" cy="870" r="9"/><circle cx="985" cy="860" r="9"/><circle cx="955" cy="875" r="9"/><circle cx="990" cy="800" r="9"/>
</g>
<g id="nodes-I11" class="c11">
<circle cx="1000" cy="830" r="9"/><circle cx="1013" cy="832" r="9"/><circle cx="1027" cy="840" r="9"/><circle cx="1037" cy="830" r="9"/><circle cx="1048" cy="837" r="9"/><circle cx="1058" cy="827" r="9"/><circle cx="1072" cy="843" r="9"/><circle cx="1088" cy="850" r="9"/><circle cx="1145" cy="830" r="9"/><circle cx="1175" cy="837" r="9"/><circle cx="1167" cy="847" r="9"/><circle cx="1210" cy="833" r="9"/><circle cx="833" cy="910" r="9"/><circle cx="842" cy="910" r="9"/><circle cx="860" cy="913" r="9"/><circle cx="885" cy="918" r="9"/><circle cx="900" cy="920" r="9"/><circle cx="910" cy="925" r="9"/><circle cx="922" cy="908" r="9"/><circle cx="933" cy="927" r="9"/><circle cx="933" cy="937" r="9"/><circle cx="778" cy="932" r="9"/><circle cx="793" cy="933" r="9"/><circle cx="803" cy="933" r="9"/><circle cx="813" cy="923" r="9"/><circle cx="823" cy="933" r="9"/><circle cx="833" cy="935" r="9"/><circle cx="843" cy="935" r="9"/><circle cx="853" cy="940" r="9"/><circle cx="863" cy="942" r="9"/><circle cx="870" cy="947" r="9"/><circle cx="877" cy="950" r="9"/><circle cx="787" cy="950" r="9"/><circle cx="800" cy="953" r="9"/><circle cx="823" cy="960" r="9"/><circle cx="840" cy="957" r="9"/><circle cx="853" cy="950" r="9"/><circle cx="867" cy="958" r="9"/><circle cx="880" cy="960" r="9"/><circle cx="893" cy="963" r="9"/><circle cx="900" cy="955" r="9"/><circle cx="907" cy="960" r="9"/><circle cx="930" cy="968" r="9"/><circle cx="927" cy="973" r="9"/><circle cx="733" cy="967" r="9"/><circle cx="753" cy="965" r="9"/><circle cx="820" cy="973" r="9"/><circle cx="810" cy="987" r="9"/><circle cx="823" cy="1007" r="9"/><circle cx="833" cy="1013" r="9"/><circle cx="893" cy="1023" r="9"/><circle cx="917" cy="1027" r="9"/><circle cx="912" cy="1040" r="9"/><circle cx="927" cy="1053" r="9"/><circle cx="938" cy="1067" r="9"/><circle cx="887" cy="1050" r="9"/><circle cx="663" cy="1017" r="9"/><circle cx="868" cy="847" r="9"/><circle cx="810" cy="945" r="9"/><circle cx="850" cy="945" r="9"/><circle cx="790" cy="940" r="9"/><circle cx="815" cy="940" r="9"/><circle cx="825" cy="945" r="9"/><circle cx="860" cy="960" r="9"/><circle cx="885" cy="945" r="9"/><circle cx="870" cy="935" r="9"/>
</g>
<g id="nodes-I3" class="c3">
<circle cx="657" cy="995" r="9"/><circle cx="652" cy="1005" r="9"/><circle cx="633" cy="1018" r="9"/><circle cx="642" cy="1030" r="9"/><circle cx="680" cy="990" r="9"/><circle cx="693" cy="990" r="9"/><circle cx="677" cy="1002" r="9"/><circle cx="690" cy="1002" r="9"/><circle cx="683" cy="1013" r="9"/><circle cx="697" cy="1013" r="9"/><circle cx="713" cy="983" r="9"/><circle cx="733" cy="987" r="9"/><circle cx="743" cy="987" r="9"/><circle cx="757" cy="987" r="9"/><circle cx="767" cy="990" r="9"/><circle cx="777" cy="993" r="9"/><circle cx="717" cy="997" r="9"/><circle cx="733" cy="1003" r="9"/><circle cx="743" cy="1007" r="9"/><circle cx="753" cy="1010" r="9"/><circle cx="720" cy="1013" r="9"/><circle cx="733" cy="1023" r="9"/><circle cx="707" cy="1027" r="9"/><circle cx="677" cy="1033" r="9"/><circle cx="690" cy="1033" r="9"/><circle cx="667" cy="1033" r="9"/><circle cx="650" cy="1040" r="9"/><circle cx="660" cy="1050" r="9"/><circle cx="673" cy="1047" r="9"/><circle cx="687" cy="1047" r="9"/><circle cx="700" cy="1043" r="9"/><circle cx="717" cy="1040" r="9"/><circle cx="727" cy="1047" r="9"/><circle cx="650" cy="1057" r="9"/><circle cx="667" cy="1060" r="9"/><circle cx="680" cy="1060" r="9"/><circle cx="697" cy="1057" r="9"/><circle cx="707" cy="1057" r="9"/><circle cx="717" cy="1060" r="9"/><circle cx="730" cy="1063" r="9"/><circle cx="653" cy="1073" r="9"/><circle cx="667" cy="1070" r="9"/><circle cx="693" cy="1073" r="9"/><circle cx="703" cy="1073" r="9"/><circle cx="717" cy="1077" r="9"/><circle cx="730" cy="1080" r="9"/><circle cx="633" cy="1063" r="9"/><circle cx="618" cy="1072" r="9"/><circle cx="628" cy="1080" r="9"/><circle cx="647" cy="1083" r="9"/><circle cx="660" cy="1083" r="9"/><circle cx="670" cy="1085" r="9"/><circle cx="683" cy="1087" r="9"/><circle cx="700" cy="1083" r="9"/><circle cx="713" cy="1087" r="9"/><circle cx="720" cy="1083" r="9"/><circle cx="660" cy="1093" r="9"/><circle cx="667" cy="1097" r="9"/><circle cx="703" cy="1093" r="9"/><circle cx="687" cy="1092" r="9"/><circle cx="720" cy="1102" r="9"/><circle cx="732" cy="1098" r="9"/><circle cx="673" cy="1105" r="9"/><circle cx="705" cy="1098" r="9"/><circle cx="675" cy="1123" r="9"/><circle cx="692" cy="1127" r="9"/><circle cx="707" cy="1113" r="9"/><circle cx="687" cy="1112" r="9"/><circle cx="700" cy="1020" r="9"/><circle cx="680" cy="1020" r="9"/><circle cx="663" cy="1010" r="9"/><circle cx="663" cy="1043" r="9"/><circle cx="710" cy="1030" r="9"/><circle cx="695" cy="1065" r="9"/><circle cx="680" cy="1075" r="9"/><circle cx="740" cy="995" r="9"/><circle cx="725" cy="1030" r="9"/>
</g>
<g id="nodes-I4" class="c4">
<circle cx="735" cy="962" r="9"/><circle cx="755" cy="968" r="9"/><circle cx="760" cy="960" r="9"/><circle cx="773" cy="968" r="9"/><circle cx="787" cy="973" r="9"/><circle cx="800" cy="967" r="9"/><circle cx="807" cy="972" r="9"/><circle cx="815" cy="975" r="9"/><circle cx="795" cy="990" r="9"/><circle cx="787" cy="995" r="9"/><circle cx="800" cy="1002" r="9"/><circle cx="813" cy="1000" r="9"/><circle cx="783" cy="1010" r="9"/><circle cx="793" cy="1017" r="9"/><circle cx="807" cy="1013" r="9"/><circle cx="772" cy="1027" r="9"/><circle cx="782" cy="1033" r="9"/><circle cx="793" cy="1030" r="9"/><circle cx="807" cy="1027" r="9"/><circle cx="817" cy="1023" r="9"/><circle cx="832" cy="1017" r="9"/><circle cx="838" cy="998" r="9"/><circle cx="847" cy="1017" r="9"/><circle cx="857" cy="1018" r="9"/><circle cx="872" cy="1008" r="9"/><circle cx="893" cy="1015" r="9"/><circle cx="885" cy="1022" r="9"/><circle cx="763" cy="1047" r="9"/><circle cx="777" cy="1040" r="9"/><circle cx="787" cy="1047" r="9"/><circle cx="800" cy="1040" r="9"/><circle cx="813" cy="1040" r="9"/><circle cx="827" cy="1043" r="9"/><circle cx="840" cy="1047" r="9"/><circle cx="852" cy="1050" r="9"/><circle cx="867" cy="1043" r="9"/><circle cx="883" cy="1038" r="9"/><circle cx="908" cy="1037" r="9"/><circle cx="902" cy="1048" r="9"/><circle cx="762" cy="1067" r="9"/><circle cx="783" cy="1060" r="9"/><circle cx="800" cy="1057" r="9"/><circle cx="807" cy="1067" r="9"/><circle cx="820" cy="1057" r="9"/><circle cx="833" cy="1053" r="9"/><circle cx="848" cy="1068" r="9"/><circle cx="863" cy="1063" r="9"/><circle cx="780" cy="1073" r="9"/><circle cx="793" cy="1080" r="9"/><circle cx="813" cy="1077" r="9"/><circle cx="827" cy="1077" r="9"/><circle cx="840" cy="1087" r="9"/><circle cx="850" cy="1083" r="9"/><circle cx="773" cy="1090" r="9"/><circle cx="787" cy="1093" r="9"/><circle cx="810" cy="1090" r="9"/><circle cx="820" cy="1097" r="9"/><circle cx="830" cy="1103" r="9"/><circle cx="760" cy="1103" r="9"/><circle cx="770" cy="1105" r="9"/><circle cx="798" cy="1108" r="9"/><circle cx="830" cy="1113" r="9"/><circle cx="847" cy="1113" r="9"/><circle cx="857" cy="1113" r="9"/><circle cx="787" cy="1120" r="9"/><circle cx="810" cy="1123" r="9"/><circle cx="823" cy="1122" r="9"/><circle cx="837" cy="1123" r="9"/><circle cx="857" cy="1132" r="9"/><circle cx="800" cy="1137" r="9"/><circle cx="802" cy="1150" r="9"/><circle cx="790" cy="1005" r="9"/><circle cx="820" cy="1030" r="9"/><circle cx="775" cy="1050" r="9"/><circle cx="795" cy="1070" r="9"/><circle cx="820" cy="1067" r="9"/><circle cx="830" cy="1030" r="9"/><circle cx="840" cy="1060" r="9"/><circle cx="790" cy="1100" r="9"/><circle cx="815" cy="1105" r="9"/>
</g>
<g id="nodes-I3b" class="c3">
<circle cx="863" cy="1002" r="9"/><circle cx="880" cy="1030" r="9"/><circle cx="863" cy="1047" r="9"/><circle cx="882" cy="1058" r="9"/><circle cx="897" cy="1070" r="9"/><circle cx="915" cy="1062" r="9"/><circle cx="840" cy="1002" r="9"/>
</g>
<g id="nodes-I4b" class="c4">
<circle cx="908" cy="1065" r="9"/><circle cx="893" cy="1015" r="9"/>
</g>
<g id="legend">
<rect x="1229" y="477" width="20" height="18" class="c10"/><text class="t" x="1271" y="494" font-size="22">I10</text>
<rect x="1229" y="507" width="20" height="18" class="c12"/><text class="t" x="1271" y="524" font-size="22">I12</text>
<rect x="1229" y="537" width="20" height="18" class="c11"/><text class="t" x="1271" y="554" font-size="22">I11</text>
<rect x="1229" y="567" width="20" height="18" class="c1"/><text class="t" x="1271" y="584" font-size="22">I1</text>
<rect x="1229" y="597" width="20" height="18" class="c2"/><text class="t" x="1271" y="614" font-size="22">I2</text>
<rect x="1229" y="627" width="20" height="18" class="c13"/><text class="t" x="1271" y="644" font-size="22">I13</text>
<rect x="1229" y="657" width="20" height="18" class="c3"/><text class="t" x="1271" y="674" font-size="22">I3</text>
<rect x="1229" y="687" width="20" height="18" class="c4"/><text class="t" x="1271" y="704" font-size="22">I4</text>
<rect x="1229" y="717" width="20" height="18" class="c14"/><text class="t" x="1271" y="734" font-size="22">I14</text>
<rect x="1229" y="747" width="20" height="18" class="c5"/><text class="t" x="1271" y="764" font-size="22">I5</text>
<rect x="1229" y="777" width="20" height="18" class="c6"/><text class="t" x="1271" y="794" font-size="22">I6</text>
<rect x="1229" y="807" width="20" height="18" class="c15"/><text class="t" x="1271" y="824" font-size="22">I15</text>
<rect x="1229" y="837" width="20" height="18" class="c7"/><text class="t" x="1271" y="854" font-size="22">I7</text>
<rect x="1229" y="867" width="20" height="18" class="c8"/><text class="t" x="1271" y="884" font-size="22">I8</text>
</g>
</svg>
